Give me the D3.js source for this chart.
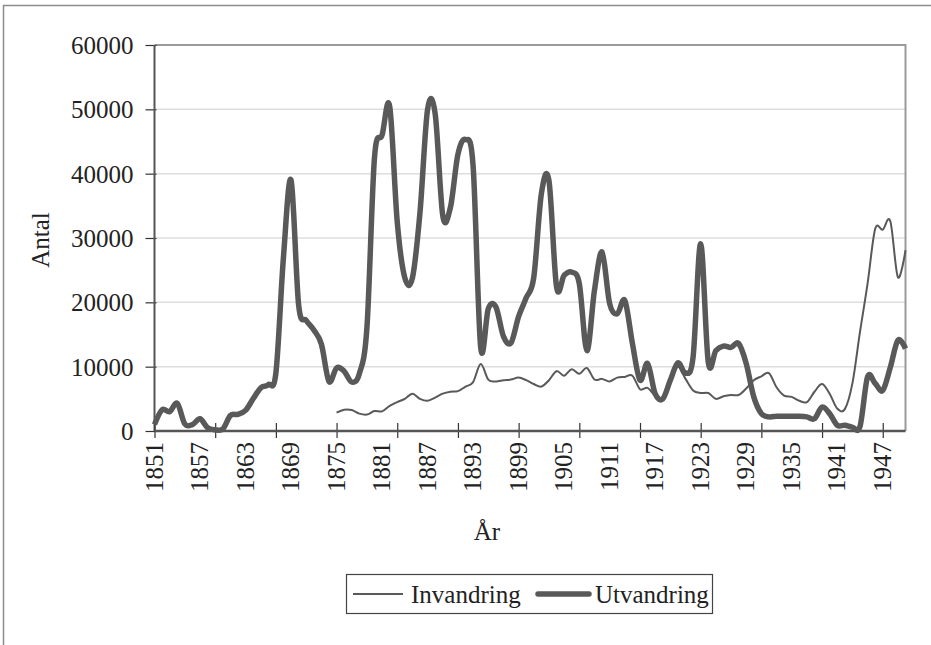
<!DOCTYPE html>
<html>
<head>
<meta charset="utf-8">
<script src="https://cdn.jsdelivr.net/npm/d3@7"></script>
<style>
  body { margin: 0; background: #fff; }
  svg { display: block; font-family: "Liberation Serif", "Times New Roman", serif; }
</style>
</head>
<body>
<svg width="931" height="645"></svg>
<script>
// years 1851-1950
var years = [
  1851,1852,1853,1854,1855,1856,1857,1858,1859,1860,
  1861,1862,1863,1864,1865,1866,1867,1868,1869,1870,
  1871,1872,1873,1874,1875,1876,1877,1878,1879,1880,
  1881,1882,1883,1884,1885,1886,1887,1888,1889,1890,
  1891,1892,1893,1894,1895,1896,1897,1898,1899,1900,
  1901,1902,1903,1904,1905,1906,1907,1908,1909,1910,
  1911,1912,1913,1914,1915,1916,1917,1918,1919,1920,
  1921,1922,1923,1924,1925,1926,1927,1928,1929,1930,
  1931,1932,1933,1934,1935,1936,1937,1938,1939,1940,
  1941,1942,1943,1944,1945,1946,1947,1948,1949,1950
];

var utvandring = [
  1000,3300,3000,4300,1100,1000,1900,500,200,300,
  2400,2600,3200,5000,6700,7200,9000,27000,39000,19600,
  17200,15700,13500,7700,9800,9300,7600,8900,16000,42500,
  46000,50500,32500,23800,23800,34000,50000,49300,33500,34700,
  43000,45300,41200,13000,19000,19300,14700,13700,17800,20700,
  23900,36900,38900,22400,24200,24700,22900,12500,21900,27800,
  19800,18200,20300,13600,7900,10500,5800,5000,7900,10600,
  9000,11500,29100,10700,12500,13200,13000,13600,10500,5300,
  2700,2200,2300,2300,2300,2300,2200,1900,3700,2700,
  900,900,600,700,8400,7400,6300,9900,14100,12800
];

var invandring = [
  null,null,null,null,null,null,null,null,null,null,
  null,null,null,null,null,null,null,null,null,null,
  null,null,null,null,2850,3300,3250,2700,2550,3100,
  3050,3900,4500,5000,5800,5000,4700,5200,5800,6100,
  6200,6900,7600,10400,8000,7700,7900,8000,8300,7900,
  7300,6900,7900,9300,8600,9600,8900,9800,8000,8100,
  7700,8300,8400,8600,6500,6700,5500,5000,7700,10000,
  8100,6300,5900,5900,5000,5400,5600,5600,6600,7900,
  8500,9000,6800,5500,5300,4700,4500,6100,7300,5800,
  3500,3400,7400,15400,22900,31400,31300,32600,23900,28100
];

var yTicks = [0, 10000, 20000, 30000, 40000, 50000, 60000];
var tickYears = [1851,1859,1867,1875,1883,1891,1899,1907,1915,1923,1931,1939,1947];
var labelYears = [1851,1857,1863,1869,1875,1881,1887,1893,1899,1905,1911,1917,1923,1929,1935,1941,1947];

var LEFT = 154.5, RIGHT = 905.5, TOP = 45, BOTTOM = 431;
var LINE_COLOR = "#595959";

var svg = d3.select("svg");

var x = d3.scaleLinear().domain([1851, 1950]).range([LEFT, RIGHT]);
var y = d3.scaleLinear().domain([0, 60000]).range([BOTTOM, TOP]);

// outer chart frame
svg.append("rect")
  .attr("x", 3.5).attr("y", 5.5)
  .attr("width", 1000).attr("height", 1000)
  .style("fill", "none")
  .style("stroke", "#8c8c8c")
  .style("stroke-width", "1.5px");

// gridlines
svg.append("g").selectAll("line")
  .data(yTicks.filter(function(d){ return d > 0 && d < 60000; }))
  .enter().append("line")
  .attr("x1", LEFT).attr("x2", RIGHT)
  .attr("y1", function(d){ return y(d); })
  .attr("y2", function(d){ return y(d); })
  .style("stroke", "#dedede")
  .style("stroke-width", "1.5px");

// plot area border top/right
svg.append("path")
  .attr("d", "M" + LEFT + "," + TOP + "H" + RIGHT + "V" + BOTTOM)
  .style("fill", "none")
  .style("stroke", "#9a9a9a")
  .style("stroke-width", "2px");

// y axis
var yAxis = d3.axisLeft(y).tickValues(yTicks).tickSize(0).tickPadding(0)
  .tickFormat(function(d){ return d; });
var gy = svg.append("g").attr("transform", "translate(" + LEFT + ",0)").call(yAxis);
gy.select(".domain").remove();
gy.selectAll(".tick line").remove();
gy.selectAll(".tick text")
  .attr("x", -21)
  .attr("dy", "0.34em")
  .style("font-family", "'Liberation Serif', 'Times New Roman', serif")
  .style("font-size", "25px")
  .style("fill", "#222");
gy.selectAll(".tick").append("line")
  .attr("x1", -9).attr("x2", 2)
  .style("stroke", "#333").style("stroke-width", "1.2px");
svg.append("line")
  .attr("x1", LEFT).attr("x2", LEFT).attr("y1", TOP).attr("y2", BOTTOM)
  .style("stroke", "#555").style("stroke-width", "2px");

// x axis
var xAxis = d3.axisBottom(x).tickValues(tickYears).tickSize(0).tickFormat("");
var gx = svg.append("g").attr("transform", "translate(0," + BOTTOM + ")").call(xAxis);
gx.select(".domain").remove();
gx.selectAll(".tick").append("line")
  .attr("y1", -8).attr("y2", 7)
  .style("stroke", "#333").style("stroke-width", "1.2px");
svg.append("line")
  .attr("x1", LEFT).attr("x2", RIGHT).attr("y1", BOTTOM).attr("y2", BOTTOM)
  .style("stroke", "#555").style("stroke-width", "2.5px");

svg.append("g").selectAll("text")
  .data(labelYears)
  .enter().append("text")
  .attr("transform", function(d){ return "translate(" + (x(d) + 8) + ",442) rotate(-90)"; })
  .attr("text-anchor", "end")
  .style("font-size", "25px")
  .style("fill", "#222")
  .text(function(d){ return d; });

// axis titles
svg.append("text")
  .attr("transform", "translate(49,240) rotate(-90)")
  .attr("text-anchor", "middle")
  .style("font-size", "25px")
  .style("fill", "#222")
  .text("Antal");

svg.append("text")
  .attr("x", 487).attr("y", 540)
  .attr("text-anchor", "middle")
  .style("font-size", "25px")
  .style("fill", "#222")
  .text("År");

// lines
var line = d3.line()
  .defined(function(d){ return d[1] !== null; })
  .x(function(d){ return x(d[0]); })
  .y(function(d){ return y(d[1]); })
  .curve(d3.curveCardinal);

svg.append("path")
  .datum(years.map(function(yr, i){ return [yr, invandring[i]]; }))
  .attr("d", line)
  .style("fill", "none")
  .style("stroke", LINE_COLOR)
  .style("stroke-width", "2px");

svg.append("path")
  .datum(years.map(function(yr, i){ return [yr, utvandring[i]]; }))
  .attr("d", line)
  .style("fill", "none")
  .style("stroke", LINE_COLOR)
  .style("stroke-width", "5.5px")
  .style("stroke-linejoin", "round");

// legend
var legend = svg.append("g");
legend.append("rect")
  .attr("x", 346.5).attr("y", 574.5)
  .attr("width", 366).attr("height", 39)
  .style("fill", "#fff")
  .style("stroke", "#444")
  .style("stroke-width", "1.2px");
legend.append("line")
  .attr("x1", 353).attr("x2", 403).attr("y1", 594).attr("y2", 594)
  .style("stroke", LINE_COLOR).style("stroke-width", "2px");
legend.append("text")
  .attr("x", 411).attr("y", 603)
  .style("font-size", "25px").style("fill", "#222")
  .text("Invandring");
legend.append("line")
  .attr("x1", 538).attr("x2", 589).attr("y1", 594).attr("y2", 594)
  .style("stroke", LINE_COLOR).style("stroke-width", "5.5px")
  .style("stroke-linecap", "round");
legend.append("text")
  .attr("x", 595).attr("y", 603)
  .style("font-size", "25px").style("fill", "#222")
  .text("Utvandring");
</script>
</body>
</html>
